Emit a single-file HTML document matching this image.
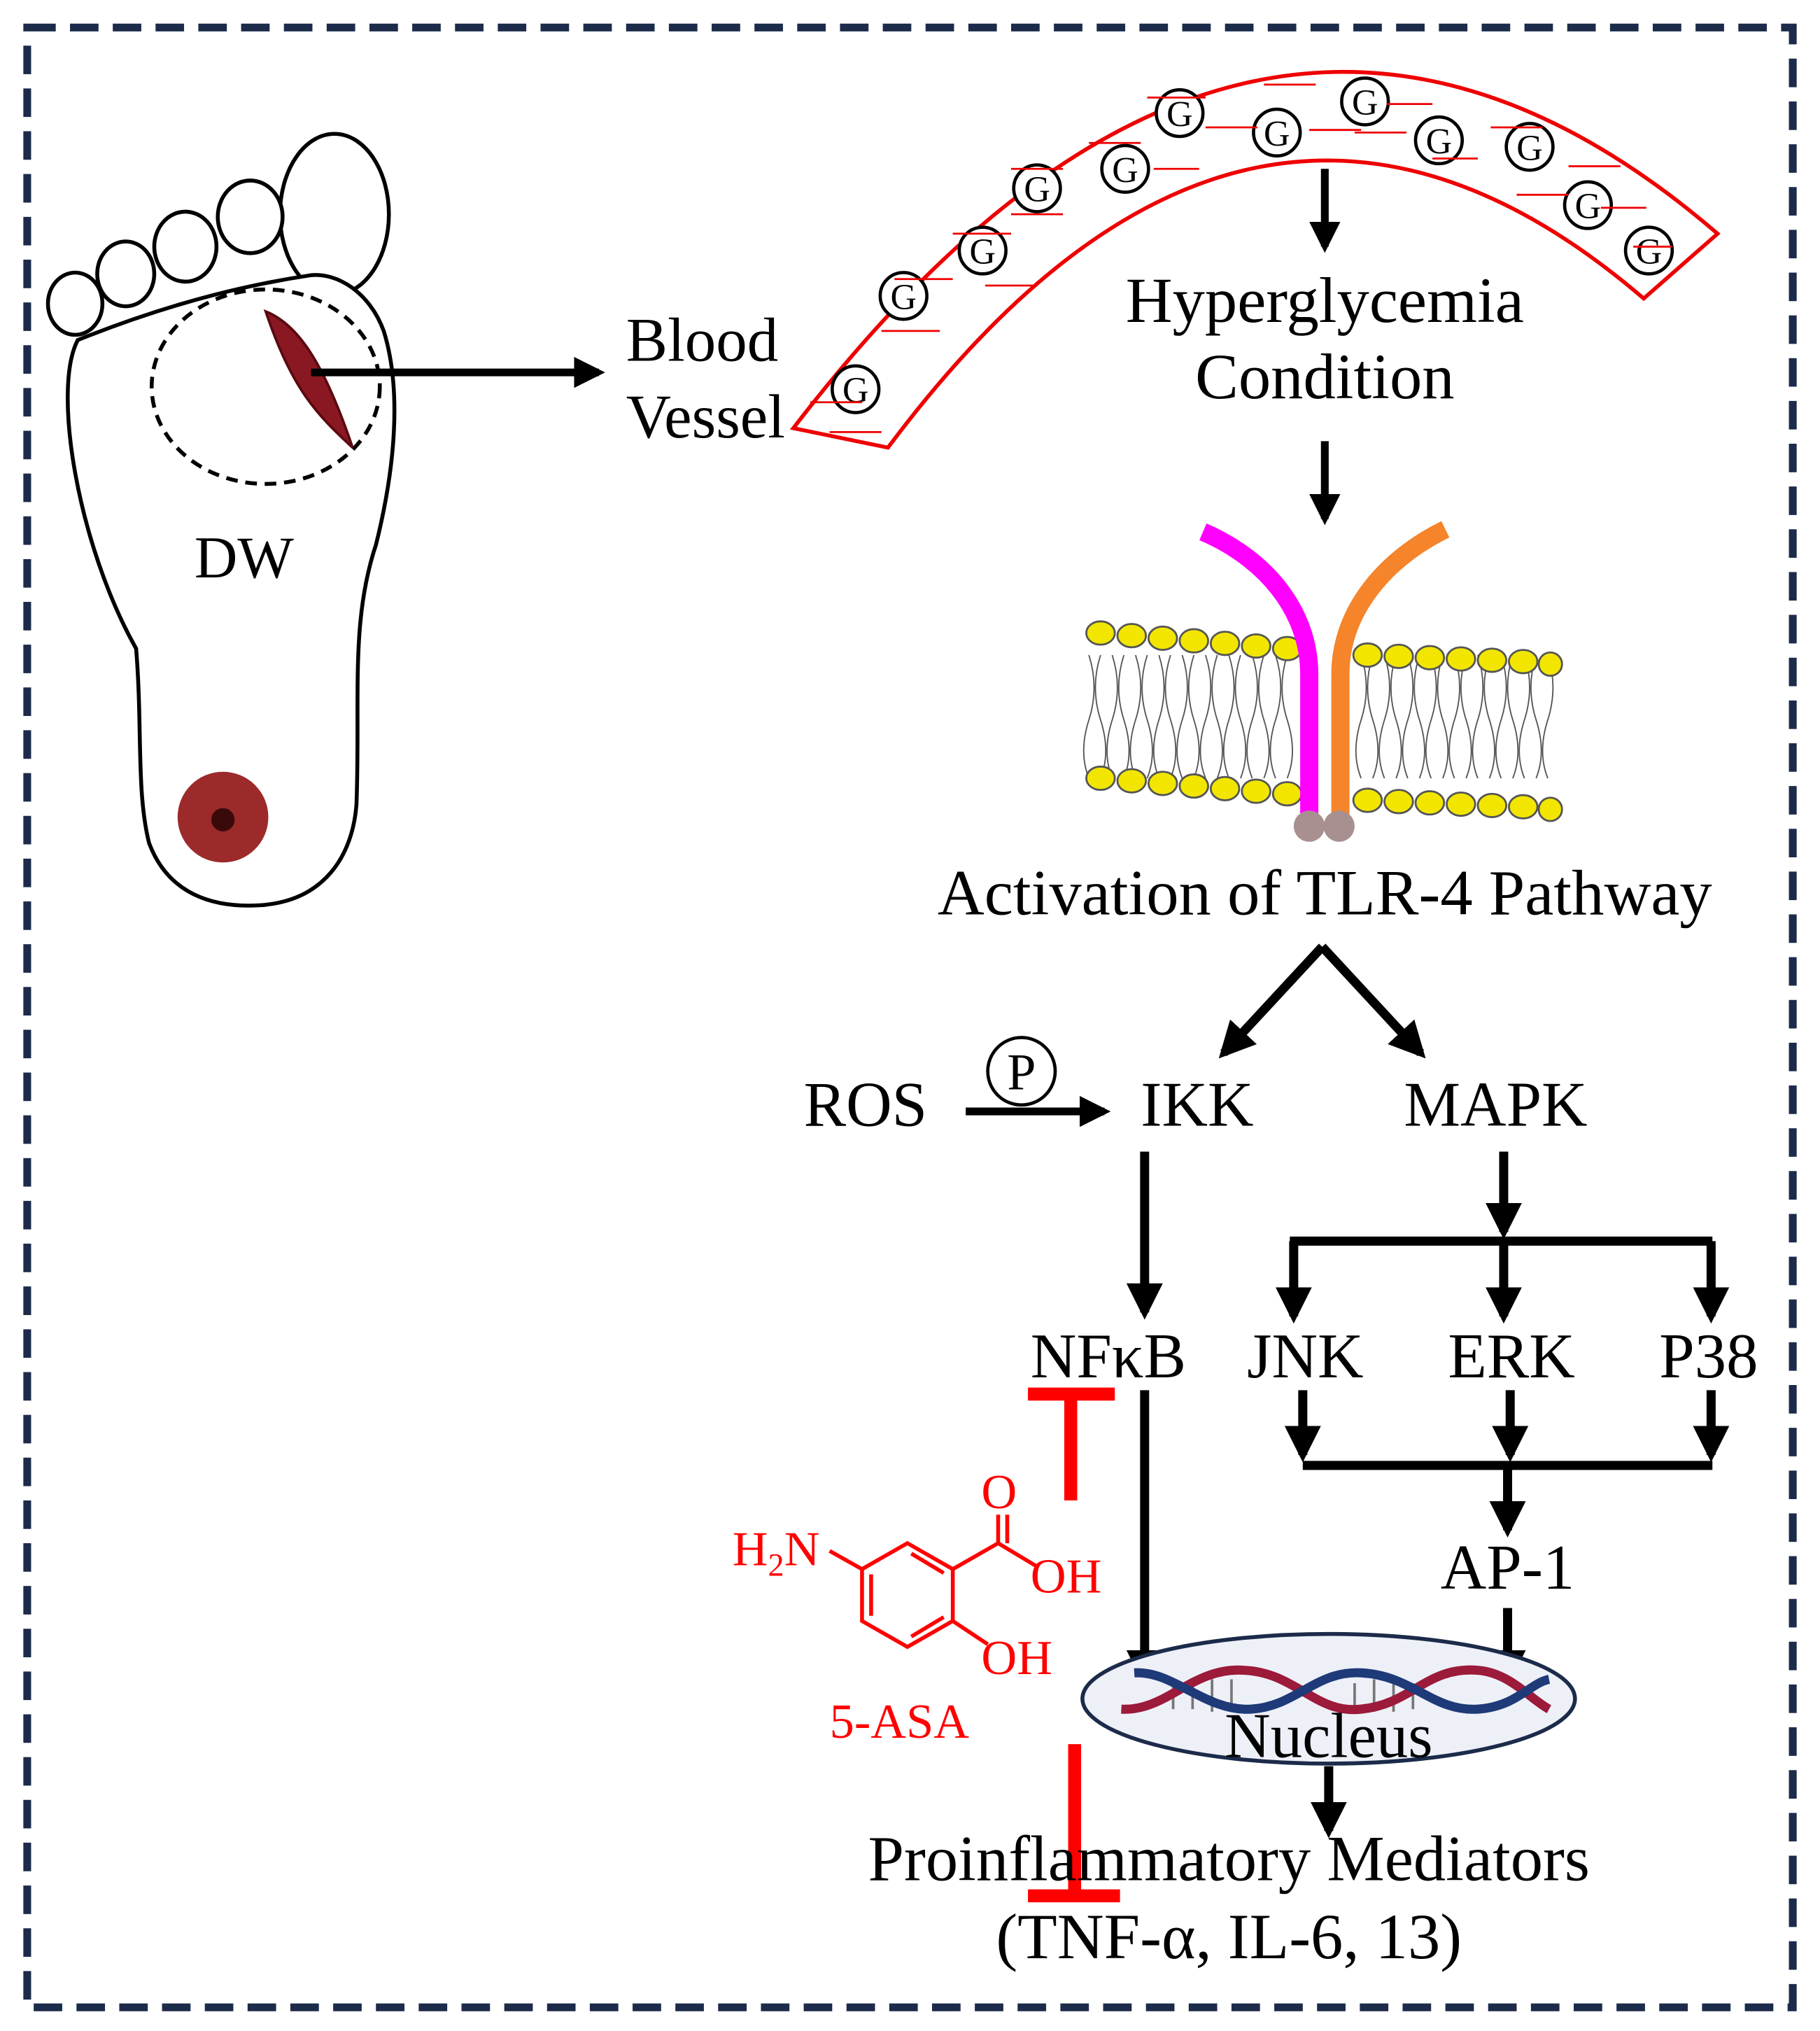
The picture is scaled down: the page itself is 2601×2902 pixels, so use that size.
<!DOCTYPE html>
<html><head><meta charset="utf-8"><style>
html,body{margin:0;padding:0;background:#fff;}
svg{display:block;}
text{font-family:"Liberation Serif",serif;fill:#000;}
</style></head><body>
<svg width="2601" height="2902" viewBox="0 0 1404 1566" xmlns="http://www.w3.org/2000/svg">
<defs>
<marker id="ah" viewBox="0 0 10 10" refX="8" refY="5" markerWidth="4" markerHeight="4" orient="auto"><path d="M0,0 L10,5 L0,10 z" fill="#000"/></marker>
</defs>
<rect x="21" y="21" width="1362" height="1527" fill="none" stroke="#1c2b4a" stroke-width="6" stroke-dasharray="22,11"/>

<!-- foot -->
<g fill="#fff" stroke="#000" stroke-width="3">
<ellipse cx="258" cy="165" rx="42" ry="62"/>
<ellipse cx="193" cy="167" rx="25" ry="28"/>
<ellipse cx="143" cy="190" rx="24" ry="27"/>
<ellipse cx="97" cy="211" rx="22" ry="25"/>
<ellipse cx="58" cy="234" rx="21" ry="24"/>
<path d="M60,262 C40,300 60,420 105,500 C110,560 105,610 115,650 C130,690 165,700 200,698 C250,695 272,660 275,620 C278,540 270,480 290,420 C305,360 310,300 296,255 C285,225 260,210 240,212 C200,218 140,230 60,262 Z"/>
</g>
<ellipse cx="205" cy="298" rx="88" ry="75" fill="none" stroke="#000" stroke-width="3" stroke-dasharray="9,6"/>
<path d="M205,240 C230,250 250,280 272,345 C245,320 225,300 205,240 Z" fill="#8a1822" stroke="#5a0a10" stroke-width="2"/>
<circle cx="172" cy="630" r="35" fill="#9c2a2a"/>
<circle cx="172" cy="632" r="9" fill="#3a0a0a"/>
<text x="150" y="445" font-size="46">DW</text>
<line x1="240" y1="287" x2="462" y2="287" stroke="#000" stroke-width="6" marker-end="url(#ah)"/>
<text x="483" y="278" font-size="48">Blood</text>
<text x="483" y="337" font-size="48">Vessel</text>

<!-- vessel -->
<path d="M612,330 Q965,-130 1325,180 L1268,230 Q965,-30 685,345 Z" fill="#fff" stroke="#e00" stroke-width="3"/>
<g fill="#fff" stroke="#000" stroke-width="2.5">
<circle cx="660" cy="300" r="18"/><circle cx="697" cy="228" r="18"/><circle cx="758" cy="193" r="18"/><circle cx="800" cy="145" r="18"/><circle cx="868" cy="130" r="18"/><circle cx="910" cy="87" r="18"/><circle cx="985" cy="102" r="18"/><circle cx="1053" cy="78" r="18"/><circle cx="1110" cy="108" r="18"/><circle cx="1180" cy="113" r="18"/><circle cx="1225" cy="158" r="18"/><circle cx="1272" cy="193" r="18"/>
</g>
<g font-size="28" text-anchor="middle">
<text x="660" y="310">G</text><text x="697" y="238">G</text><text x="758" y="203">G</text><text x="800" y="155">G</text><text x="868" y="140">G</text><text x="910" y="97">G</text><text x="985" y="112">G</text><text x="1053" y="88">G</text><text x="1110" y="118">G</text><text x="1180" y="123">G</text><text x="1225" y="168">G</text><text x="1272" y="203">G</text>
</g>
<g stroke="#e00" stroke-width="1.5">
<line x1="625" y1="310" x2="665" y2="310"/><line x1="640" y1="333" x2="680" y2="333"/>
<line x1="680" y1="255" x2="725" y2="255"/><line x1="690" y1="215" x2="735" y2="215"/>
<line x1="735" y1="180" x2="780" y2="180"/><line x1="760" y1="220" x2="800" y2="220"/>
<line x1="780" y1="130" x2="820" y2="130"/><line x1="780" y1="165" x2="820" y2="165"/>
<line x1="840" y1="110" x2="880" y2="110"/><line x1="890" y1="130" x2="925" y2="130"/>
<line x1="885" y1="75" x2="930" y2="75"/><line x1="930" y1="98" x2="970" y2="98"/>
<line x1="975" y1="65" x2="1015" y2="65"/><line x1="1010" y1="100" x2="1050" y2="100"/>
<line x1="1070" y1="80" x2="1105" y2="80"/><line x1="1045" y1="102" x2="1085" y2="102"/>
<line x1="1105" y1="122" x2="1140" y2="122"/><line x1="1150" y1="98" x2="1190" y2="98"/>
<line x1="1210" y1="128" x2="1250" y2="128"/><line x1="1170" y1="150" x2="1210" y2="150"/>
<line x1="1235" y1="160" x2="1270" y2="160"/><line x1="1260" y1="190" x2="1290" y2="190"/>
</g>
<line x1="1022" y1="130" x2="1022" y2="190" stroke="#000" stroke-width="6" marker-end="url(#ah)"/>
<text x="1022" y="248" font-size="50" text-anchor="middle">Hyperglycemia</text>
<text x="1022" y="307" font-size="50" text-anchor="middle">Condition</text>
<line x1="1022" y1="340" x2="1022" y2="400" stroke="#000" stroke-width="6" marker-end="url(#ah)"/>

<!-- membrane -->
<g stroke="#555" stroke-width="1" fill="none">
<path d="M840,505 q8,25 0,50 q-8,25 0,45 M858,505 q8,25 0,50 q-8,25 0,45 M876,505 q8,25 0,50 q-8,25 0,45 M894,505 q8,25 0,50 q-8,25 0,45 M912,505 q8,25 0,50 q-8,25 0,45 M930,505 q8,25 0,50 q-8,25 0,45 M948,505 q8,25 0,50 q-8,25 0,45 M966,505 q8,25 0,50 q-8,25 0,45 M984,505 q8,25 0,50 q-8,25 0,45 M1050,505 q8,25 0,50 q-8,25 0,45 M1068,505 q8,25 0,50 q-8,25 0,45 M1086,505 q8,25 0,50 q-8,25 0,45 M1104,505 q8,25 0,50 q-8,25 0,45 M1122,505 q8,25 0,50 q-8,25 0,45 M1140,505 q8,25 0,50 q-8,25 0,45 M1158,505 q8,25 0,50 q-8,25 0,45 M1176,505 q8,25 0,50 q-8,25 0,45 M1194,505 q8,25 0,50 q-8,25 0,45"/>
<path d="M849,505 q-8,25 0,50 q8,25 0,45 M867,505 q-8,25 0,50 q8,25 0,45 M885,505 q-8,25 0,50 q8,25 0,45 M903,505 q-8,25 0,50 q8,25 0,45 M921,505 q-8,25 0,50 q8,25 0,45 M939,505 q-8,25 0,50 q8,25 0,45 M957,505 q-8,25 0,50 q8,25 0,45 M975,505 q-8,25 0,50 q8,25 0,45 M993,505 q-8,25 0,50 q8,25 0,45 M1059,505 q-8,25 0,50 q8,25 0,45 M1077,505 q-8,25 0,50 q8,25 0,45 M1095,505 q-8,25 0,50 q8,25 0,45 M1113,505 q-8,25 0,50 q8,25 0,45 M1131,505 q-8,25 0,50 q8,25 0,45 M1149,505 q-8,25 0,50 q8,25 0,45 M1167,505 q-8,25 0,50 q8,25 0,45 M1185,505 q-8,25 0,50 q8,25 0,45"/>
</g>
<g fill="#f2e600" stroke="#555" stroke-width="1.5">
<ellipse cx="849" cy="488" rx="11" ry="9"/><ellipse cx="873" cy="490" rx="11" ry="9"/><ellipse cx="897" cy="492" rx="11" ry="9"/><ellipse cx="921" cy="494" rx="11" ry="9"/><ellipse cx="945" cy="496" rx="11" ry="9"/><ellipse cx="969" cy="498" rx="11" ry="9"/><ellipse cx="993" cy="500" rx="11" ry="9"/>
<ellipse cx="1055" cy="505" rx="11" ry="9"/><ellipse cx="1079" cy="506" rx="11" ry="9"/><ellipse cx="1103" cy="507" rx="11" ry="9"/><ellipse cx="1127" cy="508" rx="11" ry="9"/><ellipse cx="1151" cy="509" rx="11" ry="9"/><ellipse cx="1175" cy="510" rx="11" ry="9"/><ellipse cx="1196" cy="512" rx="9" ry="9"/>
<ellipse cx="849" cy="600" rx="11" ry="9"/><ellipse cx="873" cy="602" rx="11" ry="9"/><ellipse cx="897" cy="604" rx="11" ry="9"/><ellipse cx="921" cy="606" rx="11" ry="9"/><ellipse cx="945" cy="608" rx="11" ry="9"/><ellipse cx="969" cy="610" rx="11" ry="9"/><ellipse cx="993" cy="612" rx="11" ry="9"/>
<ellipse cx="1055" cy="617" rx="11" ry="9"/><ellipse cx="1079" cy="618" rx="11" ry="9"/><ellipse cx="1103" cy="619" rx="11" ry="9"/><ellipse cx="1127" cy="620" rx="11" ry="9"/><ellipse cx="1151" cy="621" rx="11" ry="9"/><ellipse cx="1175" cy="622" rx="11" ry="9"/><ellipse cx="1196" cy="624" rx="9" ry="9"/>
</g>
<path d="M928,410 C975,430 1010,470 1010,520 L1010,635" fill="none" stroke="#f0f" stroke-width="14"/>
<path d="M1115,408 C1070,430 1034,470 1034,520 L1034,635" fill="none" stroke="#f5842a" stroke-width="14"/>
<circle cx="1010" cy="637" r="12" fill="#a89090"/><circle cx="1033" cy="637" r="12" fill="#a89090"/>
<text x="1022" y="705" font-size="50" text-anchor="middle">Activation of TLR-4 Pathway</text>

<g stroke="#000" stroke-width="7" fill="none">
<line x1="1020" y1="730" x2="944" y2="812" marker-end="url(#ah)"/>
<line x1="1020" y1="730" x2="1096" y2="812" marker-end="url(#ah)"/>
<line x1="745" y1="857" x2="852" y2="857" marker-end="url(#ah)" stroke-width="6"/>
<line x1="883" y1="888" x2="883" y2="1012" marker-end="url(#ah)"/>
<line x1="1160" y1="888" x2="1160" y2="950" marker-end="url(#ah)"/>
<line x1="995" y1="957" x2="1321" y2="957"/>
<line x1="998" y1="957" x2="998" y2="1015" marker-end="url(#ah)"/>
<line x1="1160" y1="957" x2="1160" y2="1015" marker-end="url(#ah)"/>
<line x1="1320" y1="957" x2="1320" y2="1015" marker-end="url(#ah)"/>
<line x1="1005" y1="1072" x2="1005" y2="1122" marker-end="url(#ah)"/>
<line x1="1165" y1="1072" x2="1165" y2="1122" marker-end="url(#ah)"/>
<line x1="1320" y1="1072" x2="1320" y2="1122" marker-end="url(#ah)"/>
<line x1="1005" y1="1130" x2="1321" y2="1130"/>
<line x1="1163" y1="1130" x2="1163" y2="1180" marker-end="url(#ah)"/>
<line x1="1163" y1="1240" x2="1163" y2="1295" marker-end="url(#ah)"/>
<line x1="883" y1="1072" x2="883" y2="1295" marker-end="url(#ah)"/>
</g>
<text x="620" y="868" font-size="49">ROS</text>
<circle cx="788" cy="826" r="26" fill="none" stroke="#000" stroke-width="2.5"/>
<text x="788" y="840" font-size="40" text-anchor="middle">P</text>
<text x="880" y="868" font-size="49">IKK</text>
<text x="1083" y="868" font-size="49">MAPK</text>
<text x="795" y="1062" font-size="49">NFκB</text>
<text x="962" y="1062" font-size="49">JNK</text>
<text x="1117" y="1062" font-size="49">ERK</text>
<text x="1280" y="1062" font-size="49">P38</text>
<text x="1163" y="1225" font-size="49" text-anchor="middle">AP-1</text>

<!-- inhibitors -->
<g stroke="#f00" stroke-width="10">
<line x1="793" y1="1075" x2="860" y2="1075"/><line x1="826" y1="1075" x2="826" y2="1157"/>
<line x1="829" y1="1345" x2="829" y2="1462"/><line x1="793" y1="1462" x2="864" y2="1462"/>
</g>
<!-- 5-ASA -->
<g stroke="#f00" stroke-width="3" fill="none">
<path d="M700,1190 L735,1210 L735,1250 L700,1270 L665,1250 L665,1210 Z"/>
<line x1="672" y1="1214" x2="672" y2="1246"/><line x1="703" y1="1262" x2="728" y2="1247"/><line x1="703" y1="1198" x2="728" y2="1213"/>
<line x1="735" y1="1210" x2="770" y2="1190"/>
<line x1="770" y1="1190" x2="770" y2="1168"/><line x1="777" y1="1190" x2="777" y2="1168"/>
<line x1="770" y1="1190" x2="800" y2="1208"/>
<line x1="735" y1="1250" x2="762" y2="1268"/>
<line x1="665" y1="1210" x2="640" y2="1196"/>
</g>
<g font-size="38">
<text x="565" y="1207" style="fill:#f00">H<tspan font-size="25" dy="8">2</tspan><tspan dy="-8">N</tspan></text>
<text x="757" y="1163" style="fill:#f00">O</text>
<text x="795" y="1228" style="fill:#f00">OH</text>
<text x="757" y="1291" style="fill:#f00">OH</text>
<text x="640" y="1340" style="fill:#f00">5-ASA</text>
</g>

<!-- nucleus -->
<ellipse cx="1025" cy="1310" rx="190" ry="50" fill="#eef0f8" stroke="#1c2b4a" stroke-width="3"/>
<g stroke="#777" stroke-width="2">
<line x1="905" y1="1300" x2="905" y2="1318"/><line x1="920" y1="1298" x2="920" y2="1318"/><line x1="935" y1="1295" x2="935" y2="1320"/><line x1="950" y1="1295" x2="950" y2="1320"/><line x1="1045" y1="1298" x2="1045" y2="1318"/><line x1="1060" y1="1295" x2="1060" y2="1320"/><line x1="1075" y1="1295" x2="1075" y2="1320"/><line x1="1090" y1="1298" x2="1090" y2="1318"/>
</g>
<path d="M865,1318 C900,1320 920,1285 960,1288 C1000,1290 1015,1322 1050,1318 C1090,1314 1100,1285 1140,1288 C1165,1290 1180,1310 1195,1318" fill="none" stroke="#9c1a3a" stroke-width="7"/>
<path d="M875,1290 C905,1288 930,1320 965,1318 C1000,1316 1015,1288 1050,1290 C1090,1292 1105,1320 1140,1318 C1170,1316 1180,1298 1195,1295" fill="none" stroke="#1e3a78" stroke-width="7"/>
<text x="1025" y="1355" font-size="49" text-anchor="middle">Nucleus</text>
<line x1="1025" y1="1362" x2="1025" y2="1412" stroke="#000" stroke-width="7" marker-end="url(#ah)"/>
<text x="948" y="1450" font-size="50" text-anchor="middle">Proinflammatory Mediators</text>
<text x="948" y="1510" font-size="50" text-anchor="middle">(TNF-α, IL-6, 13)</text>
</svg>
</body></html>
